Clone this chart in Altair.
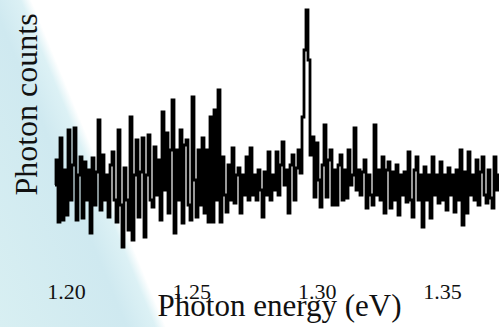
import altair as alt
import numpy as np
import pandas as pd

# Photon energy grid (eV): first and last sample
energy_start = 1.19561
energy_stop = 1.37272

# Photon counts (arbitrary units), left to right
counts = [
    75, 100, 38, 122, 40, 90, 45, 130, 60, 95,
    132, 40, 85, 103, 42, 98, 60, 90, 27, 102,
    55, 88, 140, 50, 105, 60, 85, 43, 95, 108,
    60, 38, 130, 55, 13, 92, 60, 30, 143, 20,
    85, 120, 43, 88, 122, 23, 85, 125, 60, 53,
    113, 65, 100, 40, 148, 70, 127, 47, 110, 160,
    27, 110, 60, 130, 37, 115, 120, 55, 40, 163,
    80, 43, 110, 55, 122, 47, 110, 38, 143, 38,
    150, 60, 170, 38, 103, 65, 48, 95, 60, 112,
    57, 85, 92, 47, 85, 65, 103, 60, 112, 65,
    85, 60, 90, 70, 43, 88, 65, 108, 60, 85,
    70, 108, 65, 95, 118, 75, 90, 47, 95, 105,
    60, 92, 110, 87, 143, 210, 250, 200, 105, 123,
    63, 117, 80, 53, 95, 135, 63, 100, 110, 55,
    90, 55, 95, 105, 60, 90, 62, 110, 75, 85,
    132, 70, 90, 65, 88, 100, 52, 85, 65, 55,
    135, 65, 90, 60, 103, 47, 90, 98, 52, 88,
    60, 95, 45, 85, 65, 88, 58, 108, 60, 43,
    90, 103, 60, 85, 33, 93, 60, 85, 42, 103,
    65, 85, 57, 98, 60, 85, 50, 92, 65, 85,
    48, 90, 60, 110, 35, 88, 47, 108, 65, 85,
    60, 100, 55, 88, 103, 65, 57, 90, 62, 52,
    103, 70, 85,
]

tick_values = [1.20, 1.25, 1.30, 1.35]
x_domain = [1.19162, 1.37272]
y_domain = [0, 260]

energies = np.linspace(energy_start, energy_stop, len(counts))
df = pd.DataFrame({"energy": energies, "counts": counts})

W, H = 499, 327
PL, PT, PR, PB = 45, 0, 0, 67
pw, ph = W - PL - PR, H - PT - PB

grad = alt.LinearGradient(
    gradient="linear",
    x1=-0.252, y1=0.068, x2=0.932, y2=-0.252,
    stops=[
        alt.GradientStop(offset=0.0, color="#d8eff2"),
        alt.GradientStop(offset=0.2, color="#cfe9f0"),
        alt.GradientStop(offset=0.245, color="#dcf1f5"),
        alt.GradientStop(offset=0.262, color="#ffffff"),
        alt.GradientStop(offset=1.0, color="#ffffff"),
    ],
)

bg = alt.Chart(alt.Data(values=[{"a": 1}])).mark_rect(color=grad).encode(
    x=alt.value(-PL), x2=alt.value(W - PL), y=alt.value(-PT), y2=alt.value(H - PT)
)

line = alt.Chart(df).mark_line(color="black", strokeWidth=2.8, interpolate="step").encode(
    x=alt.X(
        "energy:Q",
        scale=alt.Scale(domain=x_domain, nice=False, zero=False),
        axis=alt.Axis(
            values=tick_values, format=".2f", domain=False, ticks=False, grid=False,
            labelFont="Liberation Serif", labelFontSize=22, labelColor="#111111",
            labelPadding=21, zindex=1,
            title="Photon energy (eV)", titleFont="Liberation Serif", titleFontSize=31,
            titleFontWeight="normal", titleColor="#111111",
            titleX=234, titleY=55, titleBaseline="alphabetic", titleAlign="center",
        ),
    ),
    y=alt.Y(
        "counts:Q",
        scale=alt.Scale(domain=y_domain, nice=False, zero=False),
        axis=alt.Axis(
            labels=False, ticks=False, domain=False, grid=False, zindex=1,
            title="Photon counts", titleFont="Liberation Serif", titleFontSize=32,
            titleFontWeight="normal", titleColor="#111111",
            titleX=-19, titleY=104, titleAngle=270, titleAlign="center",
            titleBaseline="middle",
        ),
    ),
)

chart = alt.layer(bg, line).properties(
    width=pw, height=ph,
    padding={"left": PL, "top": PT, "right": PR, "bottom": PB},
    autosize=alt.AutoSizeParams(type="none"),
    background="white",
).configure_view(stroke="transparent")

chart.save("out.html", embed_options={"renderer": "svg", "actions": False})
